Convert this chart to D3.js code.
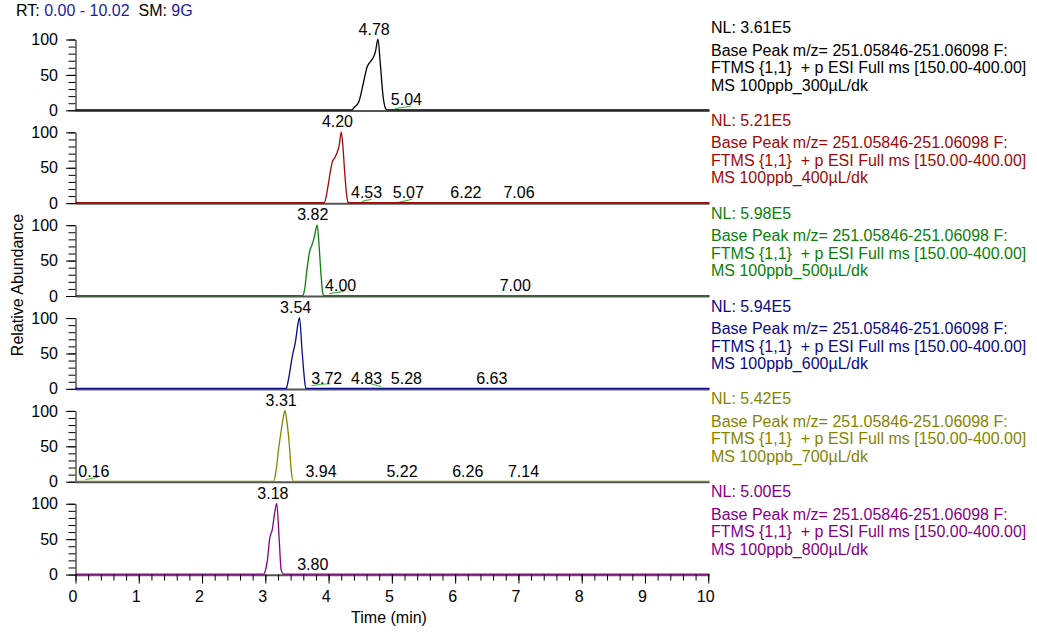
<!DOCTYPE html>
<html>
<head>
<meta charset="utf-8">
<script src="https://cdn.jsdelivr.net/npm/d3@7"></script>
<style>
  html, body { margin: 0; padding: 0; background: #fff; }
  svg { display: block; font-family: "Liberation Sans", Arial, sans-serif; }
  text { white-space: pre; }
</style>
</head>
<body>
<svg id="chart" width="1037" height="635"></svg>
<script>
// ---------------- DATA ----------------
const rtRange = [0, 10.02];
const xTickMajor = [0, 1, 2, 3, 4, 5, 6, 7, 8, 9, 10];
const yTickLabels = [0, 50, 100];
const sampleVolumes = ["300", "400", "500", "600", "700", "800"];
const nlValues = ["3.61E5", "5.21E5", "5.98E5", "5.94E5", "5.42E5", "5.00E5"];
const basePeakLine = "Base Peak m/z= 251.05846-251.06098 F:";
const scanLine = "FTMS {1,1}  + p ESI Full ms [150.00-400.00]";

// chromatogram traces [retention time (min), relative abundance (%)]
const trace300 = [[0,0],[4.37,0],[4.40,3],[4.48,12],[4.55,38],[4.61,61],[4.66,68],[4.70,73],[4.74,82],[4.78,100],[4.82,62],[4.86,20],[4.90,2],[4.92,0],[10.02,0]];
const trace400 = [[0,0],[3.93,0],[3.96,8],[3.99,23],[4.03,45],[4.06,58],[4.10,64],[4.13,70],[4.17,82],[4.20,100],[4.23,75],[4.255,42],[4.29,8],[4.31,0],[10.02,0]];
const trace500 = [[0,0],[3.59,0],[3.62,8],[3.66,38],[3.70,62],[3.74,72],[3.78,85],[3.82,100],[3.85,70],[3.88,30],[3.91,3],[3.93,0],[10.02,0]];
const trace600 = [[0,0],[3.33,0],[3.36,10],[3.43,47],[3.48,68],[3.51,88],[3.54,100],[3.58,54],[3.62,12],[3.64,0],[10.02,0]];
const trace700 = [[0,0],[3.13,0],[3.17,15],[3.21,46],[3.24,65],[3.28,88],[3.31,100],[3.34,85],[3.38,51],[3.41,15],[3.44,0],[10.02,0]];
const trace800 = [[0,0],[2.97,0],[3.00,5],[3.03,18],[3.07,51],[3.11,63],[3.15,88],[3.18,100],[3.22,48],[3.25,6],[3.29,0],[10.02,0]];

// peak labels: text, anchor time of label (min), abundance level of label
const labels300 = [["4.78",4.72,100],["5.04",5.23,0]];
const labels400 = [["4.20",4.14,100],["4.53",4.60,0],["5.07",5.26,0],["6.22",6.17,0],["7.06",7.01,0]];
const labels500 = [["3.82",3.75,100],["4.00",4.19,0],["7.00",6.95,0]];
const labels600 = [["3.54",3.48,100],["3.72",3.97,0],["4.83",4.60,0],["5.28",5.23,0],["6.63",6.58,0]];
const labels700 = [["3.31",3.25,100],["0.16",0.29,0],["3.94",3.88,0],["5.22",5.16,0],["6.26",6.20,0],["7.14",7.08,0]];
const labels800 = [["3.18",3.12,100],["3.80",3.75,0]];

// small integration marks [t1, v1, t2, v2]
const marks300 = [[5.05,2.4,5.30,5.7]];
const marks400 = [[4.53,2.5,4.68,5.4],[5.09,0.7,5.32,5.4]];
const marks500 = [[4.01,3.3,4.25,6.5]];
const marks600 = [[3.73,4.4,3.88,6.5],[3.88,6.5,4.03,7.2],[4.64,8.0,4.83,3.4]];
const marks700 = [[0.16,2.7,0.35,6.4]];
const marks800 = [];

// ---------------- STYLE / LAYOUT ----------------
const traces = [trace300, trace400, trace500, trace600, trace700, trace800];
const labels = [labels300, labels400, labels500, labels600, labels700, labels800];
const marks = [marks300, marks400, marks500, marks600, marks700, marks800];
const colors = ["#000000", "#9b0a0a", "#0a800a", "#0a0a85", "#858500", "#850085"];
const markColor = "#42b842";
const fontSize = 16;
const descOffsets = [-83, -60.5, -43, -25.5];   // text centre offsets from panel baseline

const svg = d3.select("#chart");
const x = d3.scaleLinear().domain(rtRange).range([75.5, 709.5]);
const panelZero0 = 110.3, panelStep = 92.85, panelHeight = 70.8;

// header
const hdr = svg.append("text").attr("x", 16).attr("y", 15.8).attr("font-size", fontSize);
hdr.append("tspan").attr("fill", "#000").text("RT: ");
hdr.append("tspan").attr("fill", "#1c1ca8").text("0.00 - 10.02");
hdr.append("tspan").attr("fill", "#000").text("  SM: ");
hdr.append("tspan").attr("fill", "#1c1ca8").text("9G");

const line = d3.line().x(d => x(d[0]));

traces.forEach((tr, i) => {
  const y0 = panelZero0 + i * panelStep;
  const y = d3.scaleLinear().domain([0, 100]).range([y0, y0 - panelHeight]);
  const g = svg.append("g");

  // baseline
  g.append("line")
    .attr("x1", x(rtRange[0])).attr("x2", x(rtRange[1]))
    .attr("y1", y0 + 0.6).attr("y2", y0 + 0.6)
    .attr("stroke", "#555").attr("stroke-width", 2);

  // y axis (minor + major)
  const yAxisMinor = d3.axisLeft(y).tickValues(d3.range(0, 101, 10)).tickSize(7).tickSizeOuter(0).tickFormat("");
  g.append("g").attr("transform", `translate(${x(0)},0)`).call(yAxisMinor)
    .call(a => a.selectAll("path,line").attr("stroke", "#000"));
  const yAxisMajor = d3.axisLeft(y).tickValues(yTickLabels).tickSize(9.5).tickPadding(8).tickSizeOuter(0);
  g.append("g").attr("transform", `translate(${x(0)},0)`).call(yAxisMajor)
    .call(a => a.select(".domain").remove())
    .call(a => a.selectAll("line").attr("stroke", "#000"))
    .call(a => a.selectAll("text").attr("font-size", fontSize).attr("fill", "#000")
      .attr("font-family", '"Liberation Sans", Arial, sans-serif'));

  // small marks
  g.selectAll(".mark").data(marks[i]).enter().append("line")
    .attr("x1", d => x(d[0])).attr("y1", d => y(d[1]))
    .attr("x2", d => x(d[2])).attr("y2", d => y(d[3]))
    .attr("stroke", markColor).attr("stroke-width", 1.1);

  // trace
  line.y(d => y(d[1]) - 0.4).curve(d3.curveMonotoneX);
  g.append("path").datum(tr).attr("d", line)
    .attr("fill", "none").attr("stroke", colors[i]).attr("stroke-width", 1.3);

  // peak labels
  g.selectAll(".pl").data(labels[i]).enter().append("text")
    .attr("x", d => x(d[1])).attr("y", d => y(d[2]) - 5)
    .attr("text-anchor", "middle").attr("font-size", fontSize).attr("fill", "#000")
    .text(d => d[0]);

  // right-hand description
  const lines = [`NL: ${nlValues[i]}`, basePeakLine, scanLine, `MS 100ppb_${sampleVolumes[i]}µL/dk`];
  g.selectAll(".desc").data(lines).enter().append("text")
    .attr("x", 711).attr("y", (d, k) => y0 + descOffsets[k] + 5.7)
    .attr("font-size", fontSize).attr("fill", colors[i])
    .text(d => d);
});

// x axis at bottom panel
const yBottom = panelZero0 + 5 * panelStep;
const xMinor = d3.axisBottom(x).tickValues(d3.range(0, 10.01, 0.2)).tickSize(6).tickSizeOuter(0).tickFormat("");
svg.append("g").attr("transform", `translate(0,${yBottom})`).call(xMinor)
  .call(a => a.select(".domain").remove())
  .call(a => a.selectAll("line").attr("stroke", "#000"));
const xMajor = d3.axisBottom(x).tickValues(xTickMajor).tickSize(9).tickPadding(7.5).tickSizeOuter(0);
svg.append("g").attr("transform", `translate(0,${yBottom})`).call(xMajor)
  .call(a => a.select(".domain").remove())
  .call(a => a.selectAll("line").attr("stroke", "#000"))
  .call(a => a.selectAll("text").attr("font-size", fontSize).attr("fill", "#000").attr("dx", -3)
    .attr("font-family", '"Liberation Sans", Arial, sans-serif'));

// axis titles
svg.append("text").attr("x", 389).attr("y", 623).attr("text-anchor", "middle")
  .attr("font-size", fontSize).attr("fill", "#000").text("Time (min)");
svg.append("text").attr("transform", "translate(23,285) rotate(-90)")
  .attr("text-anchor", "middle").attr("font-size", fontSize).attr("fill", "#000")
  .text("Relative Abundance");
</script>
</body>
</html>
